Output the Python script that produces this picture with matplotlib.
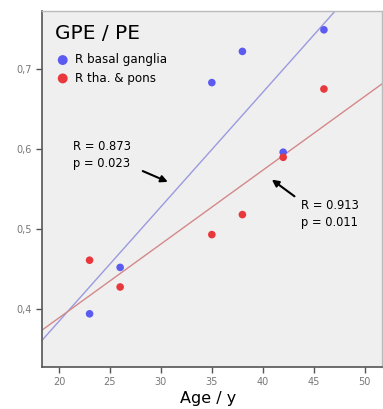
import matplotlib
matplotlib.use("Agg")
import matplotlib.pyplot as plt
import numpy as np

# Data
age_bg = [23, 26, 35, 38, 42, 46]
gpe_bg = [0.394, 0.452, 0.683, 0.722, 0.596, 0.749]
age_tp = [23, 26, 35, 38, 42, 46]
gpe_tp = [0.461, 0.4275, 0.493, 0.518, 0.5896, 0.675]
series_labels = ["R basal ganglia", "R tha. & pons"]
xticks = [20, 25, 30, 35, 40, 45, 50]
yticks = [0.4, 0.5, 0.6, 0.7]
ytick_labels = ["0,4", "0,5", "0,6", "0,7"]
stats_bg = "R = 0.873\np = 0.023"
stats_tp = "R = 0.913\np = 0.011"

blue = "#5b5bf2"
red = "#e8383c"
blue_line = "#9a9ae0"
red_line = "#d4888a"

fig = plt.figure(figsize=(3.83, 4.09), dpi=100)
fig.patch.set_facecolor("white")
ax = fig.add_axes([42/383, 1 - 367/409, (382-42)/383, (367-11)/409])
ax.set_facecolor("#efefef")

xlim = (18.33, 51.7)
ylim = (0.3275, 0.7725)
ax.set_xlim(*xlim)
ax.set_ylim(*ylim)

xs = np.array(xlim)
for xd, yd, lc in [(age_bg, gpe_bg, blue_line), (age_tp, gpe_tp, red_line)]:
    k, b = np.polyfit(xd, yd, 1)
    ax.plot(xs, k * xs + b, color=lc, lw=1.0, zorder=2)

ax.scatter(age_bg, gpe_bg, s=30, color=blue, edgecolors="none", zorder=3, label=series_labels[0])
ax.scatter(age_tp, gpe_tp, s=30, color=red, edgecolors="none", zorder=3, label=series_labels[1])

ax.set_xticks(xticks)
ax.set_yticks(yticks)
ax.set_yticklabels(ytick_labels)
ax.tick_params(axis="both", direction="out", length=4, width=1.0, color="#555555",
               labelsize=7, labelcolor="#777777")
for side in ["left", "bottom"]:
    ax.spines[side].set_color("#555555")
    ax.spines[side].set_linewidth(1.2)
for side in ["top", "right"]:
    ax.spines[side].set_color("#bbbbbb")
    ax.spines[side].set_linewidth(1.0)

ax.set_xlabel("Age / y", fontsize=11.5, color="black", va="center")
ax.xaxis.set_label_coords((208 - 42) / 340, (367 - 399) / 356)

ax.text(0.038, 0.938, "GPE / PE", transform=ax.transAxes, fontsize=14.5,
        ha="left", va="center", color="black")
ax.legend(loc="upper left", bbox_to_anchor=(0.01, 0.905), frameon=False,
          fontsize=8.6, handletextpad=0.25, borderaxespad=0.3, labelspacing=0.45,
          markerscale=1.3, handlelength=1.5)

ax.text(21.38, 0.5925, stats_bg, fontsize=8.3, ha="left", va="center", linespacing=1.35)
ax.text(43.72, 0.5188, stats_tp, fontsize=8.3, ha="left", va="center", linespacing=1.35)
ax.annotate("", xy=(30.93, 0.5575), xytext=(27.97, 0.5738),
            arrowprops=dict(arrowstyle="-|>", color="black", lw=1.5, mutation_scale=10))
ax.annotate("", xy=(40.67, 0.5638), xytext=(43.33, 0.5388),
            arrowprops=dict(arrowstyle="-|>", color="black", lw=1.5, mutation_scale=10))

fig.savefig("out.png", dpi=100, facecolor="white")
